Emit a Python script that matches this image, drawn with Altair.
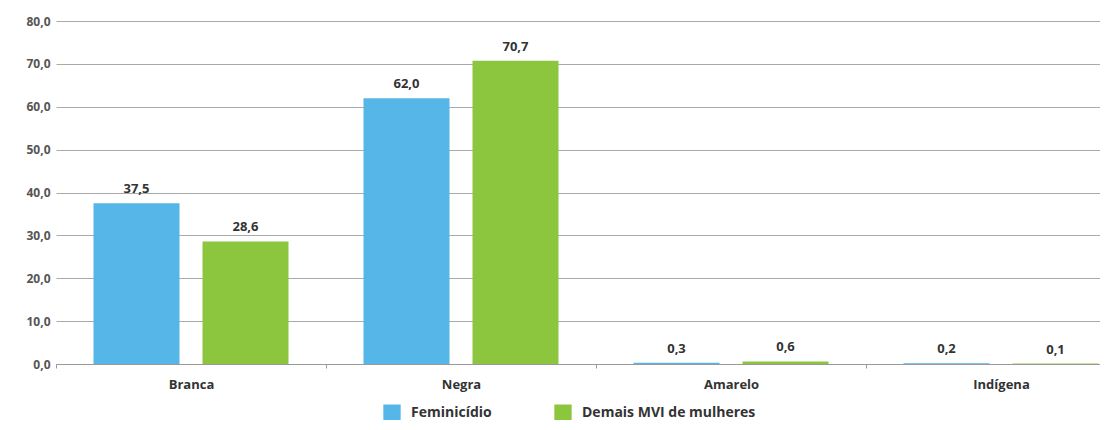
import altair as alt
import pandas as pd

categories = ["Branca", "Negra", "Amarelo", "Indígena"]
series = ["Feminicídio", "Demais MVI de mulheres"]
feminicidio = [37.5, 62.0, 0.3, 0.2]
demais = [28.6, 70.7, 0.6, 0.1]
colors = ["#55B6E7", "#8CC63F"]

rows = []
for c, f, d in zip(categories, feminicidio, demais):
    rows.append({"cat": c, "serie": series[0], "v": f})
    rows.append({"cat": c, "serie": series[1], "v": d})
df = pd.DataFrame(rows)

FONT = "Open Sans"

base = alt.Chart(df).transform_calculate(
    lab="replace(format(datum.v, '.1f'), '.', ',')"
).encode(
    x=alt.X("cat:N", sort=categories, title=None,
            scale=alt.Scale(paddingInner=0, paddingOuter=0, range=[0, 1080]),
            axis=alt.Axis(labelAngle=0, tickBand="extent", labelFont=FONT, labelFontWeight="bold",
                          labelFontSize=13, labelColor="#333333", labelPadding=10,
                          domainColor="#999999", tickColor="#999999", tickSize=4, grid=False)),
    xOffset=alt.XOffset("serie:N", sort=series,
                        scale=alt.Scale(paddingInner=0.211, paddingOuter=0.344)),
    y=alt.Y("v:Q", title=None,
            scale=alt.Scale(domain=[0, 80], nice=False),
            axis=alt.Axis(values=[0, 10, 20, 30, 40, 50, 60, 70, 80],
                          labelExpr="replace(format(datum.value, '.1f'), '.', ',')",
                          labelFont=FONT, labelFontWeight="bold", labelFontSize=12,
                          labelColor="#555555", labelPadding=6,
                          domain=False, ticks=False, gridColor="#AAAAAA", gridWidth=1)),
)

bars = base.mark_bar().encode(
    color=alt.Color("serie:N", sort=series, title=None,
                    scale=alt.Scale(domain=series, range=colors),
                    legend=alt.Legend(orient="none", direction="horizontal", legendX=327, legendY=383,
                                      symbolType="square", symbolSize=300, symbolStrokeWidth=0,
                                      labelFont=FONT, labelFontWeight="bold", labelFontSize=14,
                                      labelColor="#333333", labelLimit=400,
                                      columnPadding=62, labelOffset=10))
)

text = base.mark_text(baseline="bottom", dy=-7, font=FONT, fontWeight="bold", fontSize=13,
                      color="#333333").encode(text="lab:N")

chart = (bars + text).properties(
    width=1044, height=343,
    autosize=alt.AutoSizeParams(type="none"),
    padding={"left": 48, "top": 13, "right": 0, "bottom": 56},
).configure_view(stroke=None)

chart.save("out.html", embed_options={"renderer": "svg", "actions": False})
